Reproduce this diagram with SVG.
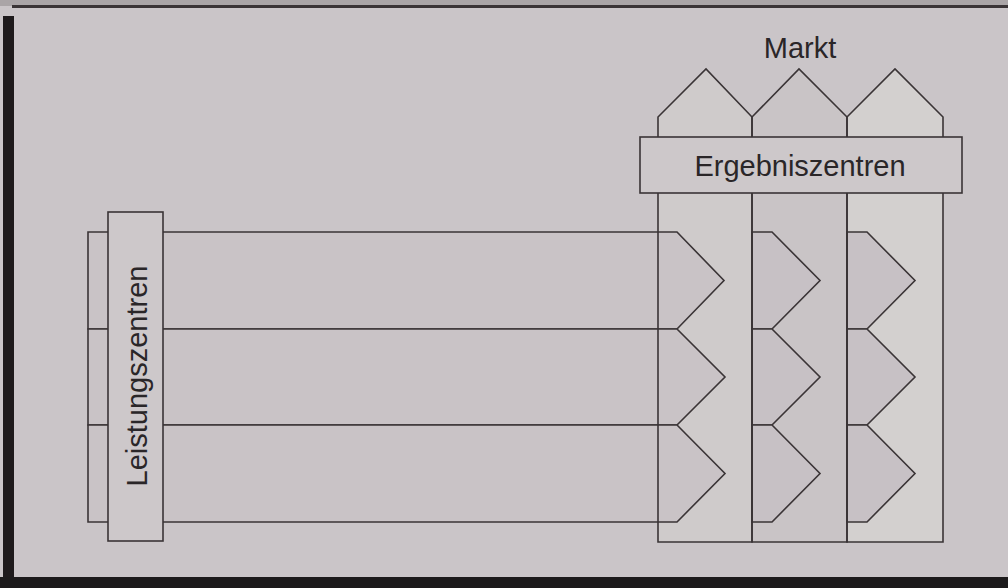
<svg xmlns="http://www.w3.org/2000/svg" width="1008" height="588" viewBox="0 0 1008 588">
  <style>
    .ln { stroke: #3a3436; stroke-width: 1.6; stroke-linejoin: miter; }
    .col { fill: #cfcbcb; }
    .row { fill: #c9c3c6; }
    .chev { fill: #c7c1c5; }
    .box { fill: #cdc8ca; }
    .lbl { font-family: "Liberation Sans", Arial, sans-serif; font-size: 29px; fill: #2a2628; }
  </style>
  <rect x="0" y="0" width="1008" height="588" fill="#cac5c8"/>
  <rect x="0" y="0" width="1008" height="6" fill="#aaa5a7"/>
  <rect x="12" y="5" width="996" height="3" fill="#3a3436"/>
  <rect x="3" y="16" width="11" height="564" fill="#1e1a1c"/>
  <rect x="0" y="577" width="1008" height="11" fill="#1c1a1b"/>

  <g id="markt">
    <text class="lbl" x="800" y="58" text-anchor="middle">Markt</text>
  </g>

  <g id="ergebnis-spalten">
    <polygon class="col" points="658,542 658,117 706,69 752,117 752,542"/>
    <polygon class="col" points="752,542 752,117 799,69 847,117 847,542" fill="#c9c4c6" style="fill:#c9c4c6"/>
    <polygon class="col" points="847,542 847,117 895,69 943,117 943,542" style="fill:#d3d0cf"/>
  </g>

  <g id="connectors">
    <polygon class="row ln" points="88,232 677,232 724,280.5 677,329 88,329"/>
    <polygon class="row ln" points="88,329 677,329 725,377 677,425 88,425"/>
    <polygon class="row ln" points="88,425 677,425 725,473.5 677,522 88,522"/>
    <polygon class="chev ln" points="752,232 772,232 820,280.5 772,329 752,329"/>
    <polygon class="chev ln" points="752,329 772,329 820,377 772,425 752,425"/>
    <polygon class="chev ln" points="752,425 772,425 820,473.5 772,522 752,522"/>
    <polygon class="chev ln" points="847,232 867,232 915,280.5 867,329 847,329"/>
    <polygon class="chev ln" points="847,329 867,329 915,377 867,425 847,425"/>
    <polygon class="chev ln" points="847,425 867,425 915,473.5 867,522 847,522"/>
  </g>

  <g id="spalten-umriss" fill="none">
    <polygon class="ln" fill="none" points="658,542 658,117 706,69 752,117 752,542"/>
    <polygon class="ln" fill="none" points="752,542 752,117 799,69 847,117 847,542"/>
    <polygon class="ln" fill="none" points="847,542 847,117 895,69 943,117 943,542"/>
  </g>

  <g id="ergebniszentren">
    <rect class="box ln" x="640" y="137" width="322" height="56"/>
    <text class="lbl" x="800" y="176" text-anchor="middle">Ergebniszentren</text>
  </g>

  <g id="leistungszentren">
    <rect class="box ln" x="108" y="212" width="55" height="329"/>
    <text class="lbl" transform="translate(147,376) rotate(-90)" x="0" y="0" text-anchor="middle">Leistungszentren</text>
  </g>
</svg>
